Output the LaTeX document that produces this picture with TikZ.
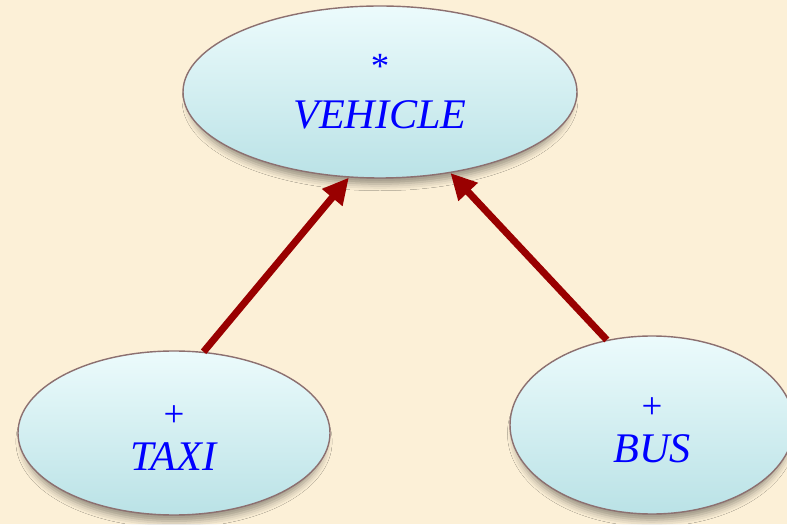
\documentclass[tikz,border=0pt]{standalone}
\usepackage{fontspec}
\setmainfont{Liberation Serif}
\usetikzlibrary{shapes.geometric,arrows.meta,shadows.blur}

\definecolor{paper}{RGB}{252,240,215}
\definecolor{rim}{RGB}{140,112,112}
\definecolor{bubbletop}{RGB}{236,251,252}
\definecolor{bubblemid}{RGB}{204,240,242}
\definecolor{bubblebot}{RGB}{186,226,230}
\definecolor{arrowred}{RGB}{153,0,0}

\newcommand\kind[1]{{\fontsize{21}{21}\selectfont #1}}

\begin{document}
\begin{tikzpicture}

% Styles
\tikzstyle{class}   = [ellipse, draw=rim, line width=0.8pt, top color=bubbletop, middle color=bubblemid, bottom color=bubblebot, blur shadow={shadow xshift=0pt, shadow yshift=-5pt, shadow scale=0.97, shadow blur radius=4pt, shadow opacity=40}, text=blue, align=center, font=\fontsize{24}{24}\selectfont]
\tikzstyle{inherit} = [draw=arrowred, line width=4pt, -{Triangle[length=0.52cm, width=0.5cm]}]

% Paper
\fill [paper] (0,0) rectangle (15.74,10.48);
\useasboundingbox (0,0) rectangle (15.74,10.48);
\clip (0,0) rectangle (15.74,10.48);

% Nodes
\node [class, minimum width=7.88cm, minimum height=3.44cm] (vehicle) at (7.6,8.64) {\kind{*}\\[4.5pt]\textit{VEHICLE}};
\node [class, minimum width=6.24cm, minimum height=3.28cm] (taxi) at (3.48,1.82) {\rule{0pt}{18pt}\kind{+}\\[1pt]\textit{TAXI}};
\node [class, minimum width=5.68cm, minimum height=3.56cm] (bus) at (13.04,1.98) {\rule{0pt}{18pt}\kind{+}\\[1pt]\textit{BUS}};

% Inheritance
\draw [inherit] (taxi.70) -- (vehicle.250);
\draw [inherit] (bus.118) -- (vehicle.311);

\end{tikzpicture}
\end{document}
